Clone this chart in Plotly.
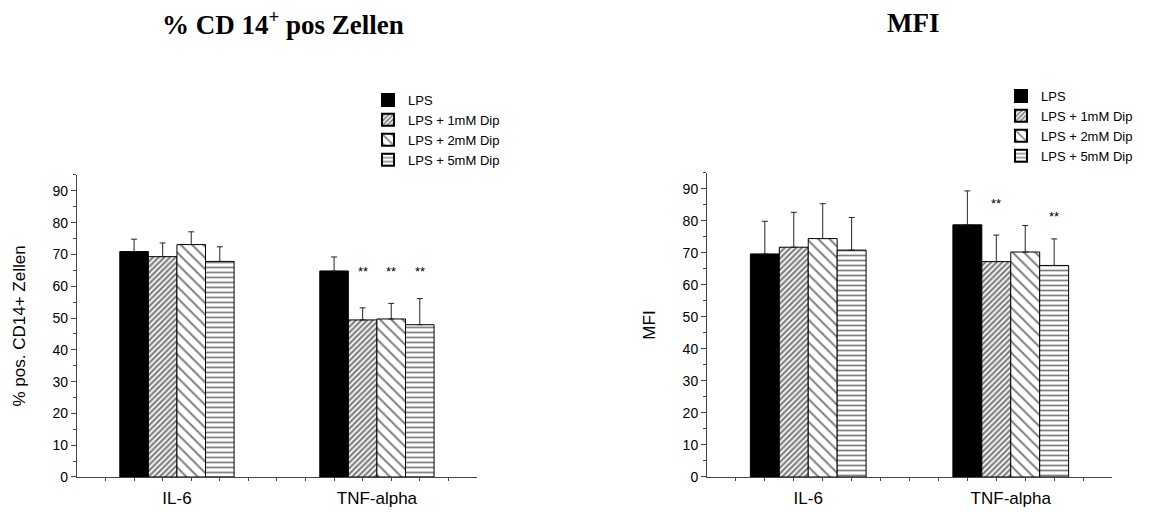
import plotly.graph_objects as go

categories = ["IL-6", "TNF-alpha"]
series_names = ["LPS", "LPS + 1mM Dip", "LPS + 2mM Dip", "LPS + 5mM Dip"]

# Left panel: % CD14+ cells
pct_values = [[70.9, 64.8], [69.3, 49.4], [73.1, 49.7], [67.8, 47.9]]
pct_errors = [[3.9, 4.4], [4.3, 3.8], [4.0, 4.9], [4.6, 8.2]]
# significance marks: (category index, series index, y)
pct_sig = [(1, 1, 64.6), (1, 2, 64.6), (1, 3, 64.6)]

# Right panel: MFI
mfi_values = [[69.7, 78.8], [71.8, 67.3], [74.5, 70.3], [70.9, 66.1]]
mfi_errors = [[10.2, 10.6], [10.9, 8.3], [10.9, 8.3], [10.2, 8.3]]
mfi_sig = [(1, 1, 85.6), (1, 3, 81.4)]

panel_titles = ["% CD 14<sup>+</sup> pos Zellen", "MFI"]
y_titles = ["% pos. CD14+ Zellen", "MFI"]
y_ticks = [0, 10, 20, 30, 40, 50, 60, 70, 80, 90]

patterns = [
    dict(shape=""),
    dict(shape="/", size=4, solidity=0.55, fgcolor="black", bgcolor="white"),
    dict(shape="\\", size=8, solidity=0.25, fgcolor="black", bgcolor="white"),
    dict(shape="-", size=5, solidity=0.35, fgcolor="black", bgcolor="white"),
]
fills = ["black", "white", "white", "white"]

def bar_x(cat_idx, ser_idx):
    return 3.5 + 7 * cat_idx + (ser_idx - 1.5)

fig = go.Figure()
font_sans = "Liberation Sans, Arial, sans-serif"

panels = [
    (pct_values, pct_errors, pct_sig, "x", "y", "legend"),
    (mfi_values, mfi_errors, mfi_sig, "x2", "y2", "legend2"),
]
for values, errors, sig, xa, ya, lg in panels:
    for s, name in enumerate(series_names):
        fig.add_trace(go.Bar(
            x=[bar_x(c, s) for c in range(len(categories))],
            y=values[s],
            width=1,
            name=name,
            xaxis=xa, yaxis=ya, legend=lg,
            marker=dict(color=fills[s], pattern=patterns[s],
                        line=dict(color="black", width=1)),
            error_y=dict(type="data", symmetric=False, array=errors[s],
                         arrayminus=[0] * len(errors[s]),
                         color="#222", thickness=1, width=3),
        ))
    for c, s, yv in sig:
        fig.add_annotation(x=bar_x(c, s), y=yv, xref=xa, yref=ya, text="**",
                           showarrow=False, font=dict(family=font_sans, size=13, color="black"))

axis_common = dict(showline=True, linecolor="#444", linewidth=1, showgrid=False, zeroline=False, automargin=False)
for i, (xdom, ydom) in enumerate([((0.0668, 0.414), (0.0702, 0.659)), ((0.6137, 0.9653), (0.0702, 0.6628))]):
    sfx = "" if i == 0 else "2"
    fig.layout["xaxis" + sfx] = dict(
        axis_common, domain=list(xdom), range=[0, 14], anchor="y" + sfx,
        tickvals=[3.5, 10.5], ticktext=categories, ticks="", ticklabelstandoff=6,
        tickfont=dict(family=font_sans, size=17, color="black"),
        minor=dict(tickvals=list(range(1, 14)), ticks="outside", ticklen=3, tickcolor="#444"),
    )
    fig.layout["yaxis" + sfx] = dict(
        axis_common, domain=list(ydom), range=[0, 95], anchor="x" + sfx,
        tickvals=y_ticks, ticks="outside", ticklen=5, tickcolor="#444",
        tickfont=dict(family=font_sans, size=14, color="black"),
        minor=dict(tickvals=[5, 15, 25, 35, 45, 55, 65, 75, 85, 95], ticks="outside", ticklen=3, tickcolor="#444"),
        title=dict(text=y_titles[i], font=dict(family=font_sans, size=17, color="black"), standoff=22),
    )

for i, cx in enumerate([283, 913]):
    fig.add_annotation(x=cx / 1152, y=1 - 23 / 513, xref="paper", yref="paper",
                       xanchor="center", yanchor="middle",
                       text="<b>" + panel_titles[i] + "</b>", showarrow=False,
                       font=dict(family="Liberation Serif, Times New Roman, serif", size=27, color="black"))

legend_common = dict(font=dict(family=font_sans, size=13, color="black"), bgcolor="rgba(0,0,0,0)",
                     tracegroupgap=0, itemsizing="constant", yanchor="top", xanchor="left")
fig.update_layout(
    width=1152, height=513, margin=dict(l=0, r=0, t=0, b=0),
    paper_bgcolor="white", plot_bgcolor="white", barmode="overlay",
    showlegend=True,
    legend=dict(legend_common, x=368 / 1152, y=1 - 85 / 513),
    legend2=dict(legend_common, x=1001 / 1152, y=1 - 81 / 513),
)

fig.write_html("out.html", config={"displayModeBar": False},
               post_script="document.body.style.margin='0px';")
